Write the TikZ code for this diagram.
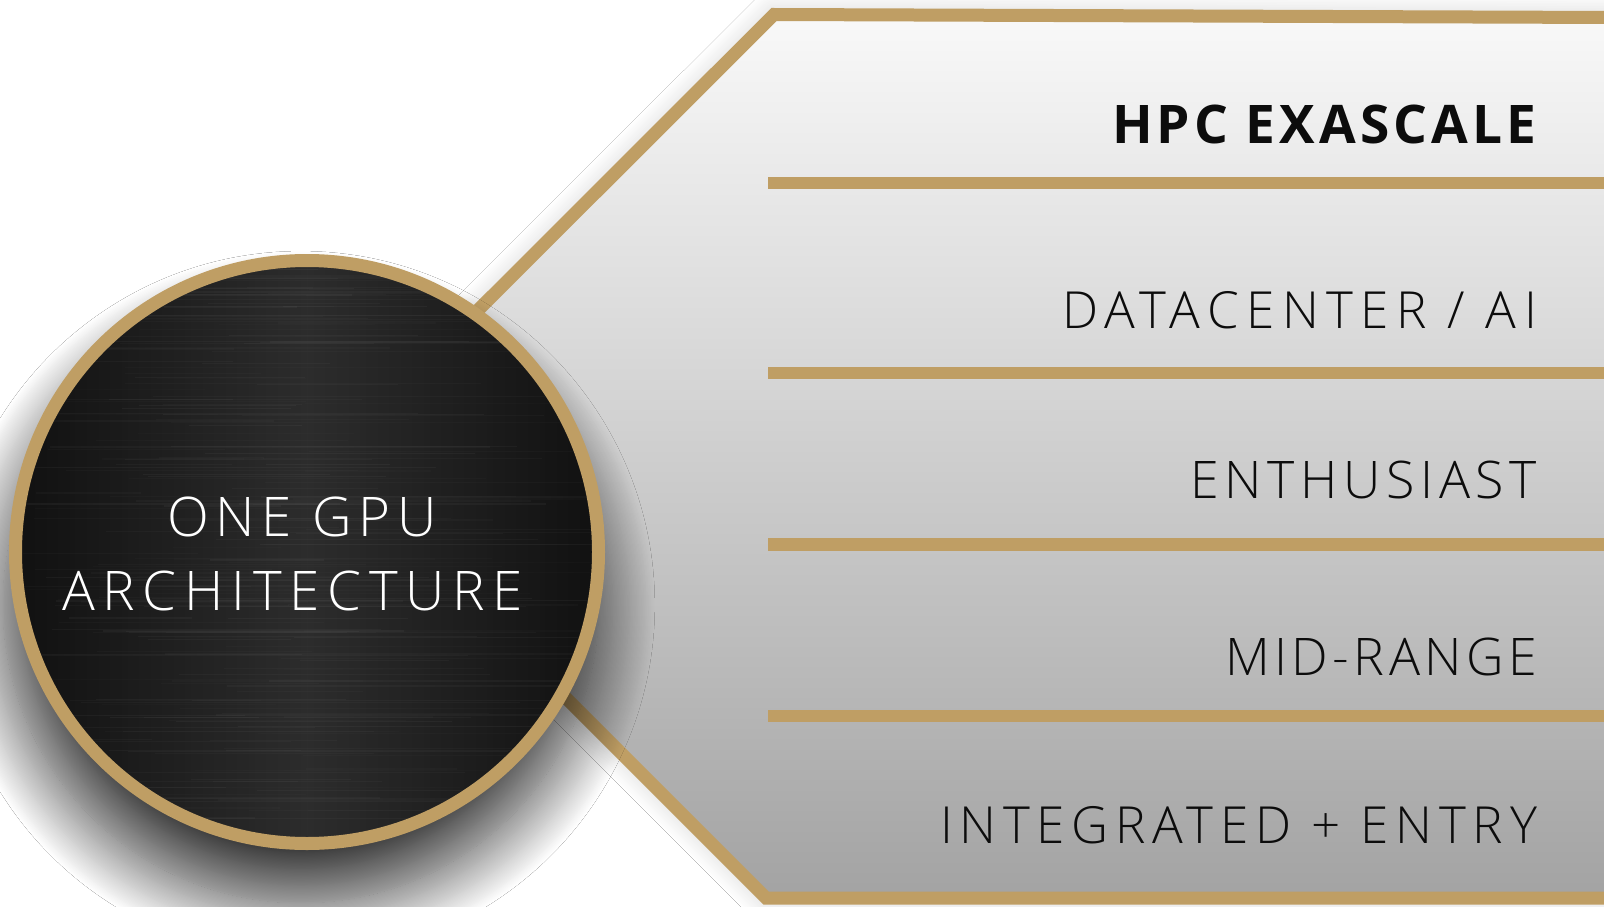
\documentclass[tikz,border=0pt]{standalone}
\usepackage{fontspec}
\usetikzlibrary{shadows.blur,fadings}
\IfFontExistsTF{Open Sans Light}{\newfontfamily\lightf{Open Sans Light}}{%
  \IfFontExistsTF{Lato Light}{\newfontfamily\lightf{Lato Light}}{\newfontfamily\lightf{Fira Sans Light}}}
\newfontfamily\boldf{Open Sans}
\definecolor{gold}{RGB}{191,158,100}
\definecolor{hexTop}{RGB}{249,249,249}
\definecolor{hexMid}{RGB}{214,214,214}
\definecolor{hexBot}{RGB}{163,163,163}
\definecolor{ink}{RGB}{12,12,12}
\pgfdeclarehorizontalshading{metal}{100bp}{rgb(0bp)=(0,0,0); rgb(9bp)=(0,0,0); rgb(26bp)=(0.13,0.13,0.13); rgb(50bp)=(0.32,0.32,0.32); rgb(74bp)=(0.13,0.13,0.13); rgb(91bp)=(0,0,0); rgb(100bp)=(0,0,0)}
\tikzfading[name=tbfade, top color=transparent!0, middle color=transparent!100, bottom color=transparent!0]
\newlength\lblcap
\newlength\lblwa
\newlength\lblwb
\newcommand\fittext[4]{%
  \begingroup
  #1\fontsize{100pt}{100pt}\selectfont
  \lblcap=\fontcharht\font`H\relax
  \pgfmathsetmacro\lblfs{100*#2/\lblcap}%
  \fontsize{\lblfs pt}{\lblfs pt}\selectfont
  \setbox0=\hbox{\addfontfeature{LetterSpace=0}#4}%
  \setbox2=\hbox{\addfontfeature{LetterSpace=10}#4}%
  \lblwa=\wd0\relax
  \lblwb=\wd2\relax
  \pgfmathsetmacro\lblls{10*(#3-\lblwa)/(\lblwb-\lblwa)}%
  \edef\lbltmp{\noexpand\addfontfeature{LetterSpace=\lblls}}\lbltmp
  #4%
  \endgroup}
\tikzset{
  goldline/.style={draw=gold, line width=12.5pt},
  lbl/.style={anchor=base west, inner sep=0pt, outer sep=0pt, text=ink},
  cirlbl/.style={anchor=base west, inner sep=0pt, outer sep=0pt, text=white}
}
\begin{document}
\begin{tikzpicture}[x=1pt,y=-1pt]
\useasboundingbox (0,0) rectangle (1604,907);
\fill[white] (0,0) rectangle (1604,907);

% hexagonal panel
\path[fill=white, blur shadow={shadow xshift=0pt, shadow yshift=0pt, shadow blur radius=24pt, shadow blur steps=40, shadow opacity=20}]
  (774,14.5) -- (1640,17.6) -- (1640,898) -- (766,898) -- (328,460) -- cycle;
\draw[draw=gold, line width=13pt, line join=miter, top color=hexTop, middle color=hexMid, bottom color=hexBot]
  (774,14.5) -- (1640,17.6) -- (1640,898) -- (766,898) -- (328,460) -- cycle;

% separators
\coordinate (s1a) at (768,183);   \coordinate (s1b) at (1640,183);
\coordinate (s2a) at (768,373);   \coordinate (s2b) at (1640,373);
\coordinate (s3a) at (768,544.5); \coordinate (s3b) at (1640,544.5);
\coordinate (s4a) at (768,716);   \coordinate (s4b) at (1640,716);
\draw[goldline] (s1a) -- (s1b);
\draw[goldline] (s2a) -- (s2b);
\draw[goldline] (s3a) -- (s3b);
\draw[goldline] (s4a) -- (s4b);

% labels
\node[lbl] (hpc) at (1112,143) {\fittext{\boldf\bfseries}{38}{424}{HPC EXASCALE}};
\node[lbl] (dc)  at (1062,328) {\fittext{\lightf}{36.5}{475}{DATACENTER / AI}};
\node[lbl] (en)  at (1190,498) {\fittext{\lightf}{37}{347}{ENTHUSIAST}};
\node[lbl] (mr)  at (1225,675) {\fittext{\lightf}{37}{312}{MID-RANGE}};
\node[lbl] (ie)  at (940,843)  {\fittext{\lightf}{36.5}{597}{INTEGRATED + ENTRY}};

% circle shadow
\path[fill=black, blur shadow={shadow xshift=-6pt, shadow yshift=-52pt, shadow scale=1.02, shadow blur radius=55pt, shadow blur steps=48, shadow opacity=78}]
  (307,552) circle (292);

% circle body
\shade[shading=metal] (307,552) circle (292);
\begin{scope}
  \clip (307,552) circle (292);
  \pgfmathsetseed{42}
  \foreach \k in {1,...,240}{
    \pgfmathsetmacro\yy{255+600*rnd}
    \pgfmathsetmacro\xa{10+300*rnd}
    \pgfmathsetmacro\xb{\xa+100+350*rnd}
    \pgfmathsetmacro\op{0.02+0.06*rnd}
    \draw[white, opacity=\op, line width=1.2pt] (\xa,\yy) -- (\xb,\yy);
  }
\end{scope}
\fill[black, opacity=0.45, path fading=tbfade] (307,552) circle (292);
\draw[gold, line width=13pt] (307,552) circle (291.5);

% circle text
\node[cirlbl] (one)  at (167,536) {\fittext{\lightf}{39}{270}{ONE GPU}};
\node[cirlbl] (arch) at (62,610)  {\fittext{\lightf}{39}{461}{ARCHITECTURE}};
\end{tikzpicture}
\end{document}
